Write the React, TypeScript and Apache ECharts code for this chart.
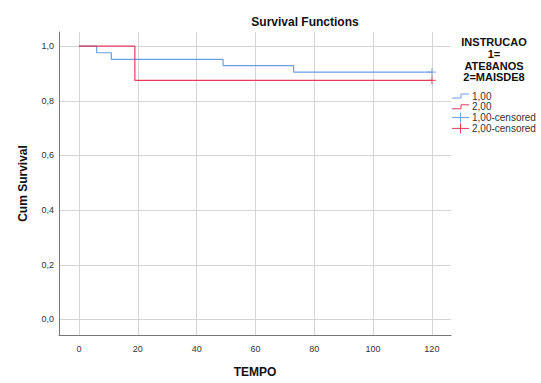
import React, { useEffect, useRef } from "react";
import * as echarts from "echarts";

const xTicks = [0, 20, 40, 60, 80, 100, 120];
const yTicks = [0, 0.2, 0.4, 0.6, 0.8, 1.0];
const group1Label = "1,00";
const group2Label = "2,00";
const group1Times = [0, 6, 11, 49, 73, 120];
const group1Surv = [1.0, 0.976, 0.952, 0.929, 0.905, 0.905];
const group2Times = [0, 19, 120];
const group2Surv = [1.0, 0.875, 0.875];
const censored1 = [[120, 0.905]];
const censored2 = [[120, 0.875]];
const legendTitle = ["INSTRUCAO", "1=", "ATE8ANOS", "2=MAISDE8"];

const BLUE = "#6a9fe2";
const RED = "#e63a5e";
const FONT = "'Liberation Sans', Arial, sans-serif";
const CROSS = "path://M4.3,0h1.4v10h-1.4z M0,4.3h10v1.4h-10z";

export default function App() {
  const ref = useRef<HTMLDivElement>(null);
  useEffect(() => {
    if (!ref.current) return;
    const chart = echarts.init(ref.current, undefined, { renderer: "svg" });
    const legendItems = [
      { label: group1Label, color: BLUE, kind: "step" },
      { label: group2Label, color: RED, kind: "step" },
      { label: group1Label + "-censored", color: BLUE, kind: "cross" },
      { label: group2Label + "-censored", color: RED, kind: "cross" },
    ];
    const graphics: any[] = [
      {
        type: "text",
        x: 305,
        y: 22,
        style: { text: "Survival Functions", font: `bold 12px ${FONT}`, fill: "#111", textAlign: "center", textVerticalAlign: "middle" },
      },
    ];
    legendTitle.forEach((t, i) => {
      graphics.push({
        type: "text",
        x: 494,
        y: 42 + i * 11.8,
        style: { text: t, font: `bold 11px ${FONT}`, fill: "#111", textAlign: "center", textVerticalAlign: "middle" },
      });
    });
    legendItems.forEach((it, i) => {
      const y = 96 + i * 10.8;
      if (it.kind === "step") {
        graphics.push({
          type: "polyline",
          shape: { points: [[452, y + 2], [461, y + 2], [461, y - 2], [469, y - 2]] },
          style: { stroke: it.color, lineWidth: 1, fill: null },
        });
      } else {
        graphics.push({ type: "line", shape: { x1: 452, y1: y, x2: 469, y2: y }, style: { stroke: it.color, lineWidth: 1 } });
        graphics.push({ type: "line", shape: { x1: 460.5, y1: y - 5, x2: 460.5, y2: y + 5 }, style: { stroke: it.color, lineWidth: 1 } });
      }
      graphics.push({
        type: "text",
        x: 472,
        y,
        style: { text: it.label, font: `10px ${FONT}`, fill: "#333", textVerticalAlign: "middle" },
      });
    });

    chart.setOption({
      animation: false,
      backgroundColor: "#fff",
      grid: { left: 59, right: 90, top: 32, bottom: 48 },
      xAxis: {
        type: "value",
        min: -6.8,
        max: 126.5,
        name: "TEMPO",
        nameLocation: "middle",
        nameGap: 31,
        nameTextStyle: { fontFamily: FONT, fontWeight: "bold", fontSize: 12, color: "#111" },
        axisLine: { show: true, onZero: false, lineStyle: { color: "#777", width: 1 } },
        axisTick: { show: false, customValues: xTicks },
        axisLabel: { customValues: xTicks, fontFamily: FONT, fontSize: 9, color: "#333", margin: 9 },
        splitLine: { show: true, lineStyle: { color: "#d4d4d4", width: 1 } },
      },
      yAxis: {
        type: "value",
        min: -0.057,
        max: 1.052,
        name: "Cum Survival",
        nameLocation: "middle",
        nameGap: 30,
        nameTextStyle: { fontFamily: FONT, fontWeight: "bold", fontSize: 12, color: "#111" },
        axisLine: { show: true, onZero: false, lineStyle: { color: "#777", width: 1 } },
        axisTick: { show: false, customValues: yTicks },
        axisLabel: {
          customValues: yTicks,
          fontFamily: FONT,
          fontSize: 9,
          color: "#333",
          margin: 5,
          formatter: (v: number) => v.toFixed(1).replace(".", ","),
        },
        splitLine: { show: true, lineStyle: { color: "#d4d4d4", width: 1 } },
      },
      series: [
        {
          name: group1Label,
          type: "line",
          step: "end",
          data: group1Times.map((t, i) => [t, group1Surv[i]]),
          showSymbol: false,
          lineStyle: { color: BLUE, width: 1.2 },
          z: 3,
        },
        {
          name: group2Label,
          type: "line",
          step: "end",
          data: group2Times.map((t, i) => [t, group2Surv[i]]),
          showSymbol: false,
          lineStyle: { color: RED, width: 1.2 },
          z: 4,
        },
        {
          name: group1Label + "-censored",
          type: "scatter",
          data: censored1,
          symbol: CROSS,
          symbolSize: 8,
          itemStyle: { color: BLUE },
          z: 5,
        },
        {
          name: group2Label + "-censored",
          type: "scatter",
          data: censored2,
          symbol: CROSS,
          symbolSize: 8,
          itemStyle: { color: RED },
          z: 5,
        },
      ],
      graphic: graphics,
    });
    return () => chart.dispose();
  }, []);
  return <div ref={ref} style={{ width: 541, height: 383, position: "absolute", left: 0, top: 0 }} />;
}
